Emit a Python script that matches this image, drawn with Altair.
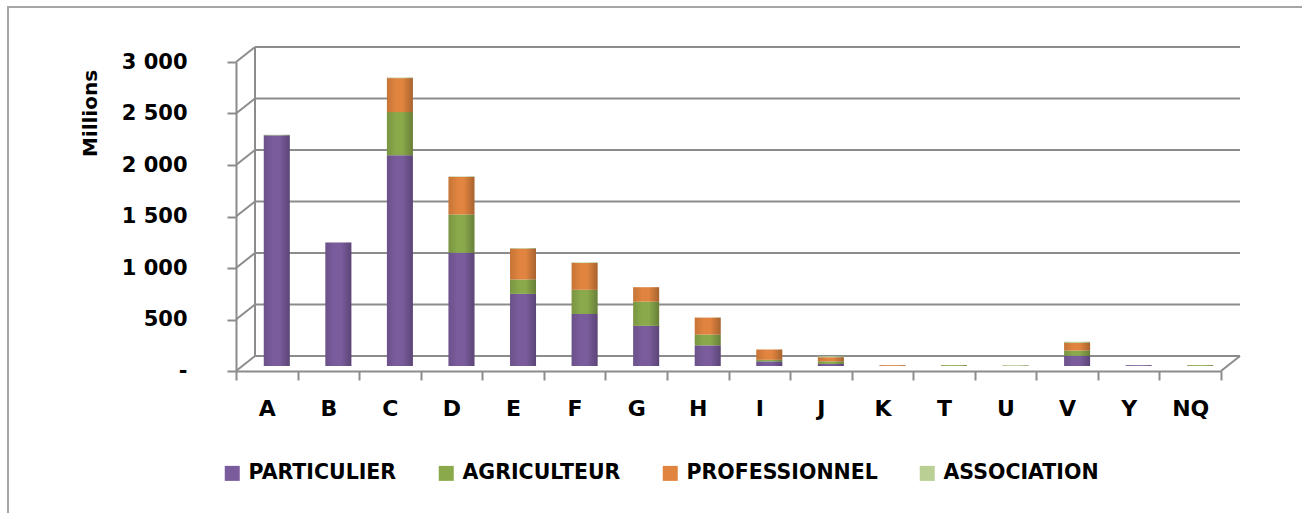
import altair as alt
import pandas as pd

categories = ["A", "B", "C", "D", "E", "F", "G", "H", "I", "J", "K", "T", "U", "V", "Y", "NQ"]
series = ["PARTICULIER", "AGRICULTEUR", "PROFESSIONNEL", "ASSOCIATION"]
particulier   = [2240, 1200, 2045, 1100, 700, 505, 390, 200, 45, 20, 0, 0, 0, 100, 8, 0]
agriculteur   = [0, 0, 420, 370, 140, 235, 235, 105, 15, 25, 0, 8, 0, 50, 0, 8]
professionnel = [0, 0, 330, 365, 300, 260, 140, 165, 100, 40, 8, 0, 0, 75, 0, 0]
association   = [5, 0, 5, 5, 5, 5, 0, 0, 0, 10, 0, 0, 8, 10, 0, 0]
colors = ["#7A5C9D", "#8AA94B", "#E0843F", "#B9CF94"]
y_ticks = [0, 500, 1000, 1500, 2000, 2500, 3000]

rows = []
for si, (name, vals) in enumerate(zip(series, [particulier, agriculteur, professionnel, association])):
    for c, v in zip(categories, vals):
        rows.append({"cat": c, "serie": name, "idx": si, "value": v})
df = pd.DataFrame(rows)
ticks_df = pd.DataFrame({"v": y_ticks})

FONT = "DejaVu Sans"
GRID = "#8C8C8C"

yscale = alt.Scale(domain=[0, 3000], nice=False)
y_axis = alt.Axis(values=y_ticks, grid=False,
                  labelExpr="datum.value == 0 ? '-' : replace(format(datum.value, ','), ',', ' ')",
                  labelFont=FONT, labelFontSize=21, labelFontWeight="bold", labelColor="#000000",
                  tickSize=9, tickColor=GRID, tickWidth=2, domainColor=GRID, domainWidth=2,
                  labelPadding=40, titleFont=FONT, titleFontSize=20, titleFontWeight="bold",
                  titleColor="#000000", titleX=-146, titleY=51, titleAngle=270,
                  titleAlign="center", titleBaseline="middle")
YT = "Millions"

xenc = alt.X("cat:N", sort=categories, title=None,
             scale=alt.Scale(paddingInner=0, paddingOuter=0),
             axis=alt.Axis(labelAngle=0, labelFont=FONT, labelFontSize=22, labelFontWeight="bold",
                           labelColor="#000000", tickSize=9, tickColor=GRID, tickWidth=2,
                           domainColor=GRID, domainWidth=2, labelPadding=18, tickBand="extent"))

# back wall gridlines
back_grid = alt.Chart(ticks_df).mark_rule(color=GRID, strokeWidth=2, yOffset=-15, y2Offset=-15).encode(
    y=alt.Y("v:Q", scale=yscale, axis=y_axis, title=YT), x=alt.value(19), x2=alt.value(1004))
diag = alt.Chart(ticks_df).mark_rule(color=GRID, strokeWidth=2, y2Offset=-15).encode(
    y=alt.Y("v:Q", scale=yscale, axis=y_axis, title=YT), y2="v:Q", x=alt.value(0), x2=alt.value(19))
back_wall = alt.Chart(ticks_df).mark_rule(color=GRID, strokeWidth=2, yOffset=-15, y2Offset=-15).encode(
    y=alt.Y("min(v):Q", scale=yscale, axis=y_axis, title=YT), y2="max(v):Q", x=alt.value(19))
floor_right = alt.Chart(ticks_df).transform_filter("datum.v == 0").mark_rule(
    color=GRID, strokeWidth=2, y2Offset=-15).encode(
    y=alt.Y("v:Q", scale=yscale, axis=y_axis, title=YT), y2="v:Q", x=alt.value(985), x2=alt.value(1004))

bars = alt.Chart(df).mark_bar(size=26, xOffset=10, yOffset=-5, y2Offset=-5).encode(
    x=xenc,
    y=alt.Y("value:Q", stack="zero", scale=yscale, axis=y_axis, title=YT),
    color=alt.Color("serie:N", sort=series, scale=alt.Scale(domain=series, range=colors),
                    legend=alt.Legend(title=None, orient="none", legendX=-14, legendY=401,
                                      direction="horizontal", symbolType="square", symbolSize=225,
                                      symbolStrokeWidth=0, labelFont=FONT, labelFontSize=20.5,
                                      labelFontWeight="bold", labelColor="#000000", labelLimit=0,
                                      columnPadding=39, labelOffset=6)),
    order=alt.Order("idx:Q"),
)

shade = alt.Chart(df).mark_bar(
    size=26, xOffset=10, yOffset=-5, y2Offset=-5,
    fill=alt.Gradient(gradient="linear", x1=0, x2=1, y1=0, y2=0,
                      stops=[alt.GradientStop(color="rgba(0,0,0,0.12)", offset=0),
                             alt.GradientStop(color="rgba(0,0,0,0.0)", offset=0.35),
                             alt.GradientStop(color="rgba(0,0,0,0.0)", offset=0.6),
                             alt.GradientStop(color="rgba(0,0,0,0.25)", offset=1)])
).encode(x=alt.X("cat:N", sort=categories),
         y=alt.Y("sum(value):Q", scale=yscale, axis=y_axis, title=YT),
         y2=alt.datum(0))

border = alt.Chart(ticks_df).mark_rect(filled=False, stroke="#A6A6A6", strokeWidth=2).encode(
    x=alt.value(-228), x2=alt.value(1150), y=alt.value(-55), y2=alt.value(500))

chart = alt.layer(back_grid, diag, back_wall, floor_right, bars, shade, border).properties(
    width=985, height=309,
    autosize=alt.AutoSizeParams(type="none"),
    padding={"left": 236, "top": 62, "right": 81, "bottom": 142},
    background="#FFFFFF",
).configure_view(stroke=None)

chart.save("out.html", embed_options={"renderer": "svg", "actions": False})
